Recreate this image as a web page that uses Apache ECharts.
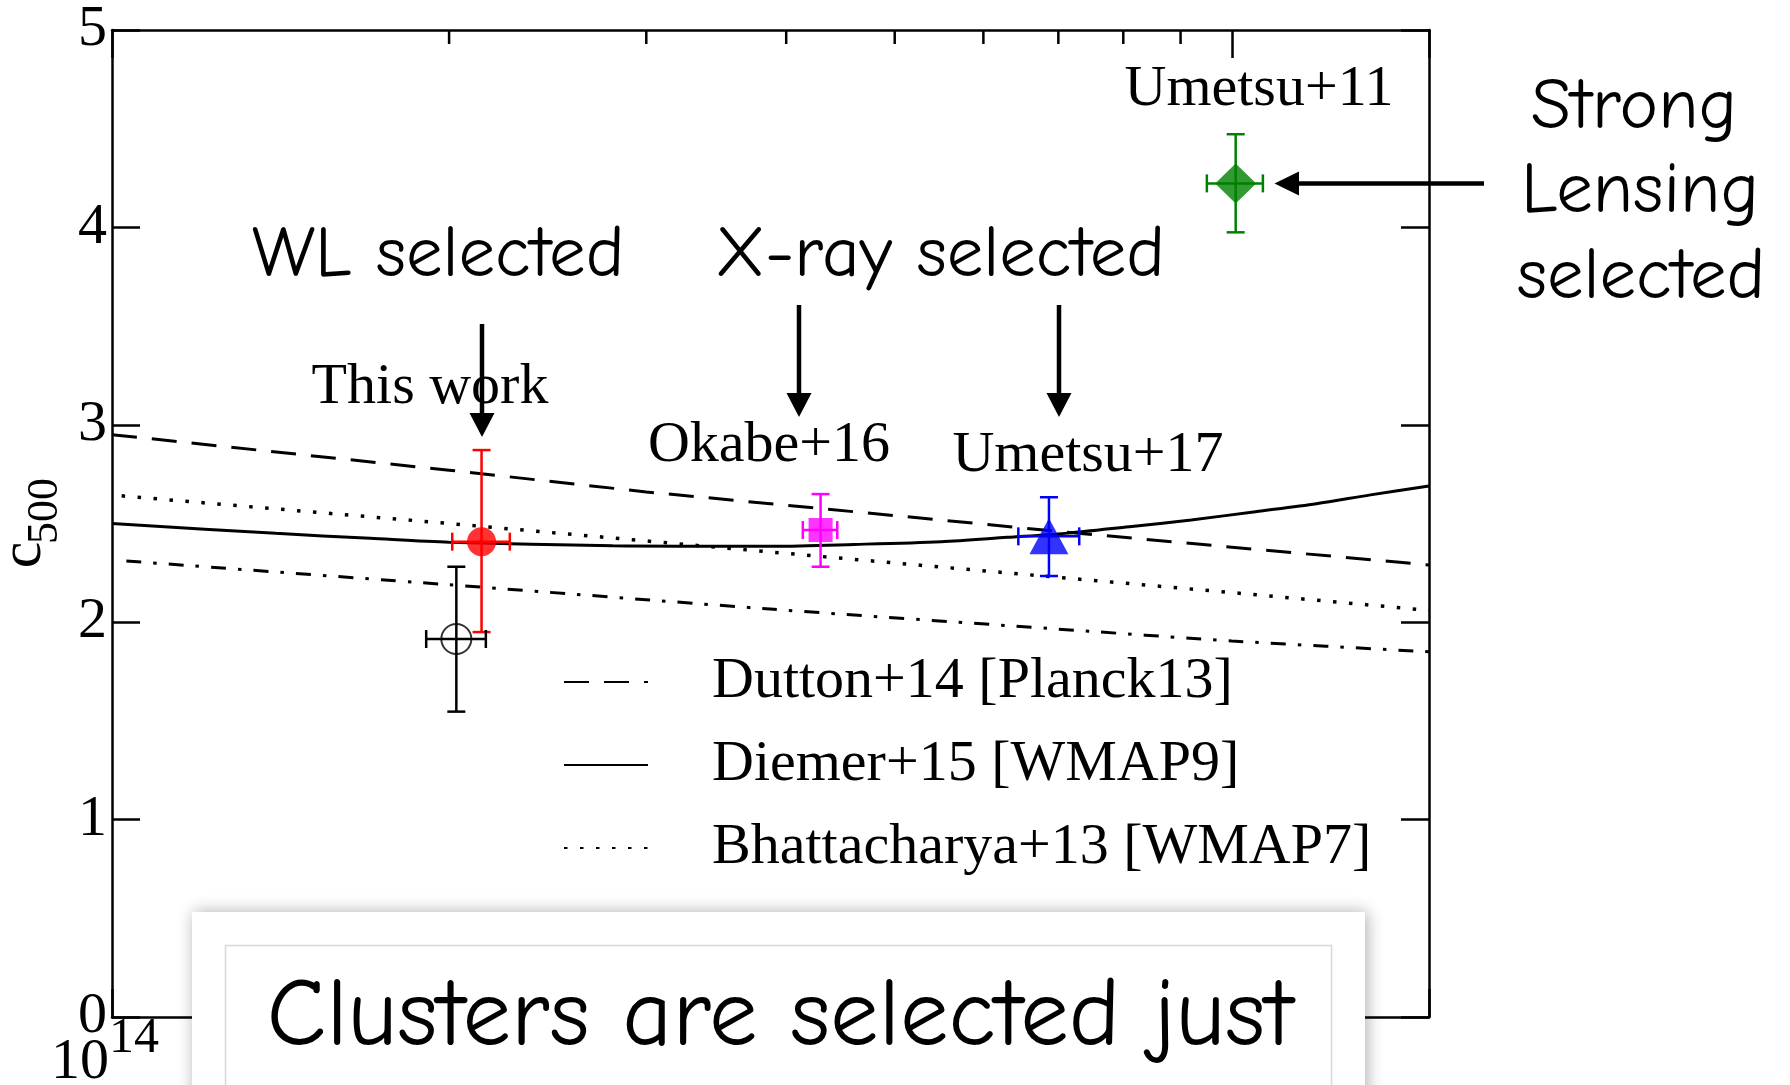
<!DOCTYPE html>
<html>
<head>
<meta charset="utf-8">
<script src="https://cdn.jsdelivr.net/npm/echarts@6/dist/echarts.min.js"></script>
<style>
html,body{margin:0;padding:0;background:#fff;}
#chart{width:1790px;height:1085px;}
</style>
</head>
<body>
<div id="chart"></div>
<script>
// ---------------- data ----------------
const xMin = 1e14, xMax = 1.5e15;
const yMin = 0, yMax = 5;
const xMajorTicks = [1e14, 1e15];
const xMinorTicks = [2e14, 3e14, 4e14, 5e14, 6e14, 7e14, 8e14, 9e14];
const xTickLabelBase = '10';
const yTitleMain = 'c';
const yTitleSub = '500';

// model curves
const duttonName = 'Dutton+14 [Planck13]';
const duttonMass = [1.0e14, 2.0e14, 3.0e14, 5.0e14, 7.0e14, 1.0e15, 1.5e15];
const duttonC    = [2.95, 2.77, 2.66, 2.54, 2.46, 2.38, 2.29];

const diemerName = 'Diemer+15 [WMAP9]';
const diemerMass = [1.0e14, 1.4e14, 1.7e14, 2.0e14, 2.8e14, 3.3e14, 3.9e14, 4.6e14, 5.5e14,
                    6.3e14, 7.1e14, 8.1e14, 9.2e14, 1.05e15, 1.19e15, 1.33e15, 1.5e15];
const diemerC    = [2.50, 2.45, 2.425, 2.405, 2.387, 2.385, 2.385, 2.394, 2.408,
                    2.43, 2.45, 2.484, 2.518, 2.56, 2.60, 2.645, 2.69];

const bhattName = 'Bhattacharya+13 [WMAP7]';
const bhattMass = [1.02e14, 2.0e14, 5.0e14, 1.0e15, 1.5e15];
const bhattC    = [2.64, 2.50, 2.30, 2.15, 2.06];

const fourthName = 'Model 4';
const fourthMass = [1.03e14, 2.0e14, 3.9e14, 7.0e14, 1.0e15, 1.5e15];
const fourthC    = [2.31, 2.19, 2.065, 1.965, 1.905, 1.85];

// measurements
const pointNames  = ['This work', 'This work (open)', 'Okabe+16', 'Umetsu+17', 'Umetsu+11'];
const pointMass   = [2.138e14, 2.030e14, 4.293e14, 6.866e14, 1.008e15];
const pointMassLo = [2.013e14, 1.908e14, 4.139e14, 6.447e14, 9.50e14];
const pointMassHi = [2.266e14, 2.157e14, 4.443e14, 7.307e14, 1.066e15];
const pointC      = [2.408, 1.915, 2.467, 2.435, 4.223];
const pointCLo    = [1.950, 1.547, 2.281, 2.234, 3.975];
const pointCHi    = [2.872, 2.281, 2.649, 2.633, 4.472];

// ---------------- styles ----------------
const SERIF = '"Liberation Serif", "Times New Roman", Times, serif';
const COMIC = '"Comic Sans MS", "Comic Neue", "Open Sans", sans-serif';
const pointColors  = ['#ff0000', '#000000', '#ff00ff', '#0000ff', '#008000'];
const pointSymbols = ['circle', 'circle', 'rect', 'triangle', 'diamond'];
const pointSizes   = [29, 30, 24, [39, 36], [41, 40]];
const pointFilled  = [true, false, true, true, true];

const pairs = (xs, ys) => xs.map((x, i) => [x, ys[i]]);

const series = [
  {
    name: duttonName, type: 'line', data: pairs(duttonMass, duttonC),
    symbol: 'none', z: 2, silent: true,
    lineStyle: { color: '#000', width: 3, type: [25, 15] }
  },
  {
    name: diemerName, type: 'line', data: pairs(diemerMass, diemerC),
    symbol: 'none', smooth: 0.3, z: 2, silent: true,
    lineStyle: { color: '#000', width: 3, type: 'solid' }
  },
  {
    name: bhattName, type: 'line', data: pairs(bhattMass, bhattC),
    symbol: 'none', z: 2, silent: true,
    lineStyle: { color: '#000', width: 3.5, type: [3.5, 12.5] }
  },
  {
    name: fourthName, type: 'line', data: pairs(fourthMass, fourthC),
    symbol: 'none', smooth: 0.2, z: 2, silent: true,
    lineStyle: { color: '#000', width: 3, type: [15, 12, 3.5, 12] }
  },
  // minor ticks on the log mass axis (top and bottom frame)
  {
    name: 'minorTicks', type: 'custom', silent: true, clip: false, z: 3,
    data: xMinorTicks.map(v => [v, yMax]),
    renderItem: function (params, api) {
      const m = api.value(0);
      const t = api.coord([m, yMax]);
      const b = api.coord([m, yMin]);
      const st = { stroke: '#000', lineWidth: 2.5 };
      return { type: 'group', children: [
        { type: 'line', shape: { x1: t[0], y1: t[1], x2: t[0], y2: t[1] + 14 }, style: st },
        { type: 'line', shape: { x1: b[0], y1: b[1], x2: b[0], y2: b[1] - 14 }, style: st }
      ]};
    }
  },
  // error bars
  {
    name: 'errorBars', type: 'custom', silent: true, clip: false, z: 4,
    data: pointMass.map((m, i) => [m, pointC[i], pointMassLo[i], pointMassHi[i], pointCLo[i], pointCHi[i]]),
    encode: { x: 0, y: 1 },
    renderItem: function (params, api) {
      const i = params.dataIndex;
      const col = pointColors[i];
      const yl = api.coord([api.value(0), api.value(4)]);
      const yh = api.coord([api.value(0), api.value(5)]);
      const xl = api.coord([api.value(2), api.value(1)]);
      const xh = api.coord([api.value(3), api.value(1)]);
      const cap = 9;
      const st = { stroke: col, lineWidth: 2.5 };
      return { type: 'group', children: [
        { type: 'line', shape: { x1: yl[0], y1: yl[1], x2: yh[0], y2: yh[1] }, style: st },
        { type: 'line', shape: { x1: yl[0] - cap, y1: yl[1], x2: yl[0] + cap, y2: yl[1] }, style: st },
        { type: 'line', shape: { x1: yh[0] - cap, y1: yh[1], x2: yh[0] + cap, y2: yh[1] }, style: st },
        { type: 'line', shape: { x1: xl[0], y1: xl[1], x2: xh[0], y2: xh[1] }, style: st },
        { type: 'line', shape: { x1: xl[0], y1: xl[1] - cap, x2: xl[0], y2: xl[1] + cap }, style: st },
        { type: 'line', shape: { x1: xh[0], y1: xh[1] - cap, x2: xh[0], y2: xh[1] + cap }, style: st }
      ]};
    }
  }
];

pointNames.forEach((n, i) => {
  series.push({
    name: n, type: 'scatter', silent: true, z: 5,
    data: [[pointMass[i], pointC[i]]],
    symbol: pointSymbols[i], symbolSize: pointSizes[i],
    itemStyle: pointFilled[i]
      ? { color: pointColors[i], borderWidth: 0 }
      : { color: 'rgba(0,0,0,0)', borderColor: pointColors[i], borderWidth: 2 }
  });
});

// ---------------- annotations ----------------
function txt(text, x, y, size, family, extra, weight) {
  return Object.assign({
    type: 'text', x: x, y: y, z: 50,
    style: {
      text: text, x: 0, y: 0, fill: '#000',
      fontSize: size, fontFamily: family, fontWeight: weight || 'normal',
      align: 'center', verticalAlign: 'middle'
    }
  }, extra || {});
}
function vArrow(x, y1, yTip) {
  return [
    { type: 'line', z: 50, shape: { x1: x, y1: y1, x2: x, y2: yTip - 20 }, style: { stroke: '#000', lineWidth: 4.5 } },
    { type: 'polygon', z: 50, shape: { points: [[x - 12.5, yTip - 24], [x + 12.5, yTip - 24], [x, yTip]] }, style: { fill: '#000' } }
  ];
}

const graphics = [].concat(
  [
    // y-axis title c_500 (rotated)
    txt(yTitleMain, 24, 555, 60, SERIF, { rotation: Math.PI / 2 }),
    txt(yTitleSub, 45, 511, 44, SERIF, { rotation: Math.PI / 2 }),
    txt('This work', 430, 388, 58, SERIF),
    txt('Okabe+16', 769, 446, 58, SERIF),
    txt('Umetsu+17', 1088, 456, 58, SERIF),
    txt('Umetsu+11', 1259, 90, 58, SERIF),
    txt('WL selected', 438, 255, 73, COMIC),
    txt('X-ray selected', 940, 255, 73, COMIC),
    txt('Strong', 1634, 107, 73, COMIC),
    txt('Lensing', 1640, 191, 73, COMIC),
    txt('selected', 1641, 277, 73, COMIC)
  ],
  vArrow(482, 324, 437),
  vArrow(799, 305, 417),
  vArrow(1059, 305, 417),
  [
    { type: 'line', z: 50, shape: { x1: 1484, y1: 183.5, x2: 1295, y2: 183.5 }, style: { stroke: '#000', lineWidth: 4.5 } },
    { type: 'polygon', z: 50, shape: { points: [[1299, 171.5], [1299, 195.5], [1274.5, 183.5]] }, style: { fill: '#000' } },
    // overlay card
    { type: 'rect', z: 100, shape: { x: 192, y: 912, width: 1173, height: 300 },
      style: { fill: '#fff', shadowBlur: 16, shadowColor: 'rgba(0,0,0,0.32)', shadowOffsetX: 2, shadowOffsetY: 0 } },
    { type: 'rect', z: 101, shape: { x: 225.5, y: 945.5, width: 1106, height: 250 },
      style: { fill: '#fff', stroke: '#d8d8d8', lineWidth: 1.5 } },
    txt('Clusters are selected just', 780, 1018, 97, COMIC, { z: 102 })
  ]
);

// ---------------- chart ----------------
const chart = echarts.init(document.getElementById('chart'), null, { renderer: 'canvas' });

const axisLineStyle = { color: '#000', width: 2.5 };
const tickStyle = { color: '#000', width: 2.5 };

chart.setOption({
  animation: false,
  backgroundColor: '#fff',
  grid: { left: 112, right: 361, top: 30, bottom: 68, containLabel: false, outerBoundsMode: 'none' },
  legend: {
    data: [duttonName, diemerName, bhattName],
    orient: 'vertical', left: 563, top: 653, padding: 0,
    itemGap: 25, itemWidth: 84, itemHeight: 20,
    selectedMode: false,
    itemStyle: { color: 'rgba(0,0,0,0)', borderWidth: 0, borderColor: 'rgba(0,0,0,0)' },
    formatter: n => '{g|}{t|' + n + '}',
    textStyle: {
      color: '#000', fontSize: 58, fontFamily: SERIF, lineHeight: 58,
      rich: {
        g: { width: 59 },
        t: { fontSize: 58, fontFamily: SERIF, lineHeight: 58, color: '#000' }
      }
    }
  },
  xAxis: [
    {
      type: 'log', logBase: 10, min: xMin, max: xMax, position: 'bottom',
      axisLine: { show: true, onZero: false, lineStyle: axisLineStyle },
      axisTick: { show: true, inside: true, length: 28, lineStyle: tickStyle },
      splitLine: { show: false },
      axisLabel: {
        show: true, margin: -3, padding: [0, 14, 0, 0],
        formatter: function (v) {
          const e = Math.round(Math.log10(v));
          if (Math.abs(v - xMajorTicks[0]) < 1) return '{b|' + xTickLabelBase + '}{s|' + e + '}';
          return '';
        },
        rich: {
          b: { fontSize: 58, fontFamily: SERIF, color: '#000', lineHeight: 98, verticalAlign: 'middle' },
          s: { fontSize: 50, fontFamily: SERIF, color: '#000', lineHeight: 50, verticalAlign: 'top' }
        }
      }
    },
    {
      type: 'log', logBase: 10, min: xMin, max: xMax, position: 'top',
      axisLine: { show: true, onZero: false, lineStyle: axisLineStyle },
      axisTick: { show: true, inside: true, length: 28, lineStyle: tickStyle },
      splitLine: { show: false },
      axisLabel: { show: false }
    }
  ],
  yAxis: [
    {
      type: 'value', min: yMin, max: yMax, interval: 1, position: 'left',
      axisLine: { show: true, onZero: false, lineStyle: axisLineStyle },
      axisTick: { show: true, inside: true, length: 28, lineStyle: tickStyle },
      splitLine: { show: false },
      axisLabel: { show: true, margin: 5, color: '#000', fontSize: 58, fontFamily: SERIF }
    },
    {
      type: 'value', min: yMin, max: yMax, interval: 1, position: 'right',
      axisLine: { show: true, onZero: false, lineStyle: axisLineStyle },
      axisTick: { show: true, inside: true, length: 28, lineStyle: tickStyle },
      splitLine: { show: false },
      axisLabel: { show: false }
    }
  ],
  series: series,
  graphic: { elements: graphics }
});
</script>
</body>
</html>
